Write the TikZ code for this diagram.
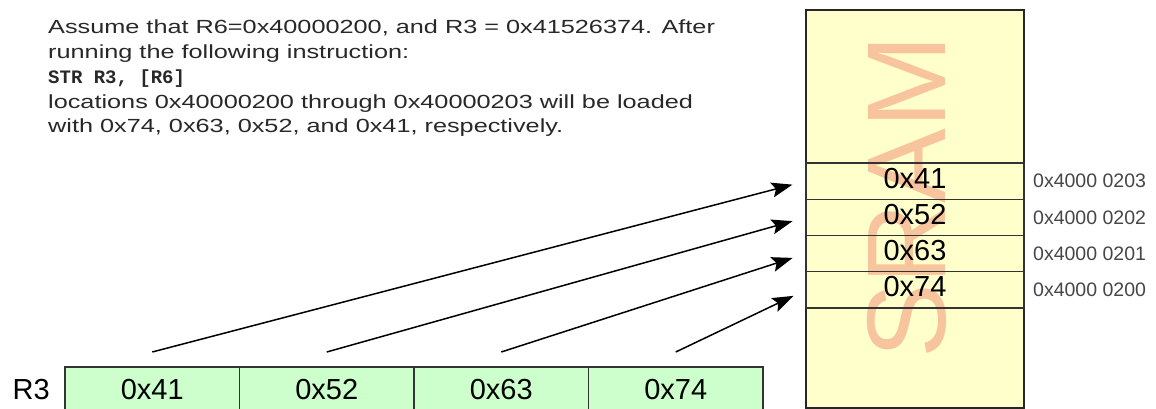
\documentclass[tikz,border=0pt]{standalone}
\usepackage{fontspec}
\setmainfont{Liberation Sans}
\setmonofont{Liberation Mono}
\newfontfamily\notefont[FakeStretch=1.33]{Liberation Sans}
\usepackage{tikz}
\usetikzlibrary{arrows.meta, positioning}
\usepackage{xcolor}
\definecolor{sramfill}{RGB}{255, 255, 204}
\definecolor{regfill}{RGB}{204, 255, 204}
\definecolor{sramtag}{RGB}{248, 196, 158}
\definecolor{addrgray}{RGB}{70, 70, 70}
\definecolor{notegray}{RGB}{40, 40, 40}

\begin{document}
\begin{tikzpicture}[x=1pt, y=-1pt, >={Stealth[length=21pt, width=15pt, inset=4pt]},
  memrow/.style={draw=black!80, line width=1.4pt, outer sep=0pt, inner sep=0pt,
    minimum width=218pt, minimum height=36.25pt, text depth=6pt, font=\fontsize{29}{29}\selectfont},
  regcell/.style={draw=black!80, fill=regfill, line width=1.4pt, outer sep=0pt, inner sep=0pt,
    minimum width=174.5pt, minimum height=46pt, font=\fontsize{29}{29}\selectfont},
  addr/.style={addrgray, inner sep=0pt, font=\fontsize{19.5}{19.5}\selectfont},
  wire/.style={->, line width=1.5pt, shorten >=14pt}]

  \useasboundingbox (0,0) rectangle (1156,409);

  % explanation
  \node[anchor=north west, inner sep=0pt, align=left, notegray, font=\notefont\fontsize{19}{24.7}\selectfont] (note) at (48,20)
    {Assume that R6=0x40000200, and R3 = 0x41526374. After\\
     running the following instruction:\\
     {\ttfamily\bfseries\fontsize{19}{24.7}\selectfont STR R3, [R6]}\\
     locations 0x40000200 through 0x40000203 will be loaded\\
     with 0x74, 0x63, 0x52, and 0x41, respectively.};

  % memory block
  \node[draw=black!85, fill=sramfill, line width=1.6pt, outer sep=0pt, minimum width=218pt, minimum height=398pt] (sram) at (915,209) {};
  \node[sramtag, rotate=90, inner sep=0pt, font=\fontsize{112}{112}\selectfont] (tag) at (907,197) {SRAM};

  % byte locations
  \node[memrow] (m41) at (915,181.1) {0x41};
  \node[memrow, below=0pt of m41] (m52) {0x52};
  \node[memrow, below=0pt of m52] (m63) {0x63};
  \node[memrow, below=0pt of m63] (m74) {0x74};

  % addresses
  \node[addr, right=9pt of m41] (a203) {0x4000 0203};
  \node[addr, right=9pt of m52] (a202) {0x4000 0202};
  \node[addr, right=9pt of m63] (a201) {0x4000 0201};
  \node[addr, right=9pt of m74] (a200) {0x4000 0200};

  % register R3
  \node[regcell] (r41) at (152.25,390) {0x41};
  \node[regcell, right=0pt of r41] (r52) {0x52};
  \node[regcell, right=0pt of r52] (r63) {0x63};
  \node[regcell, right=0pt of r63] (r74) {0x74};
  \node[inner sep=0pt, font=\fontsize{29}{29}\selectfont, left=15pt of r41] (rname) {R3};

  % stores
  \coordinate (s41) at ([yshift=15pt]r41.north);
  \coordinate (s52) at ([yshift=15pt]r52.north);
  \coordinate (s63) at ([yshift=15pt]r63.north);
  \coordinate (s74) at ([yshift=15pt]r74.north);
  \draw[wire] (s41) -- (m41.west);
  \draw[wire] (s52) -- (m52.west);
  \draw[wire] (s63) -- (m63.west);
  \draw[wire] (s74) -- (m74.west);

\end{tikzpicture}
\end{document}
